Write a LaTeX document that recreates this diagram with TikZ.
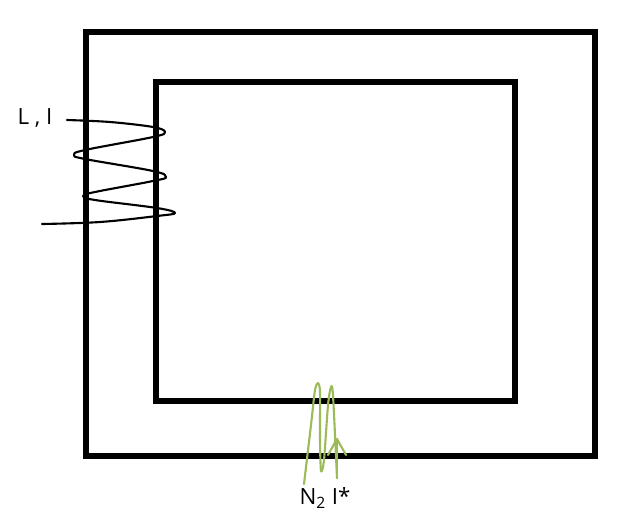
\documentclass[tikz,border=0pt]{standalone}
\usepackage{fontspec}
\setmainfont{Open Sans}
\definecolor{coilgreen}{HTML}{9BBB59}
\tikzset{
  core/.style={line width=3.1pt, line join=miter},
  coil/.style={line width=1.2pt, line cap=round, line join=round},
  label/.style={font=\fontsize{12.7}{15}\selectfont, inner sep=0pt},
}
\begin{document}
\begin{tikzpicture}[x=.02cm, y=.02cm]
    \useasboundingbox (0,0) rectangle (627,-529);
    \draw[core] (86,-32) rectangle (595,-456);
    \draw[core] (156,-82) rectangle (515,-401);
    \node[label] (LI) at (35,-118) {L , I};
    \node[label] (N2) at (325,-498) {N$_{\mathrm{2}}$ I*};
    \coordinate (A1) at (67,-120);
    \coordinate (A2) at (42,-224);
    \coordinate (B1) at (304,-484);
    \coordinate (B2) at (337,-478);
    \coordinate (T) at (337,-439);
    \coordinate (TL) at (328,-455);
    \coordinate (TR) at (346,-455);
    % primary winding
    \draw[coil] plot[smooth, tension=.6] coordinates {(A1) (110,-122) (153,-127) (165,-132)
        (153,-137) (85,-150) (74,-155) (85,-159) (153,-171) (166,-177) (153,-181)
        (95,-192) (83,-196) (95,-200) (157,-208) (175,-213) (157,-216) (100,-222) (A2)};
    % secondary winding
    \draw[coil, coilgreen] plot[smooth, tension=.45] coordinates {(B1) (311,-425) (315,-390) (318,-383)
        (320,-392) (320,-440) (321,-471) (324,-460) (328,-405) (331,-387) (333,-395) (B2)};
    \draw[coil, coilgreen] (B2) -- (T);
    \draw[coil, coilgreen] (TL) -- (T) -- (TR);
\end{tikzpicture}
\end{document}
